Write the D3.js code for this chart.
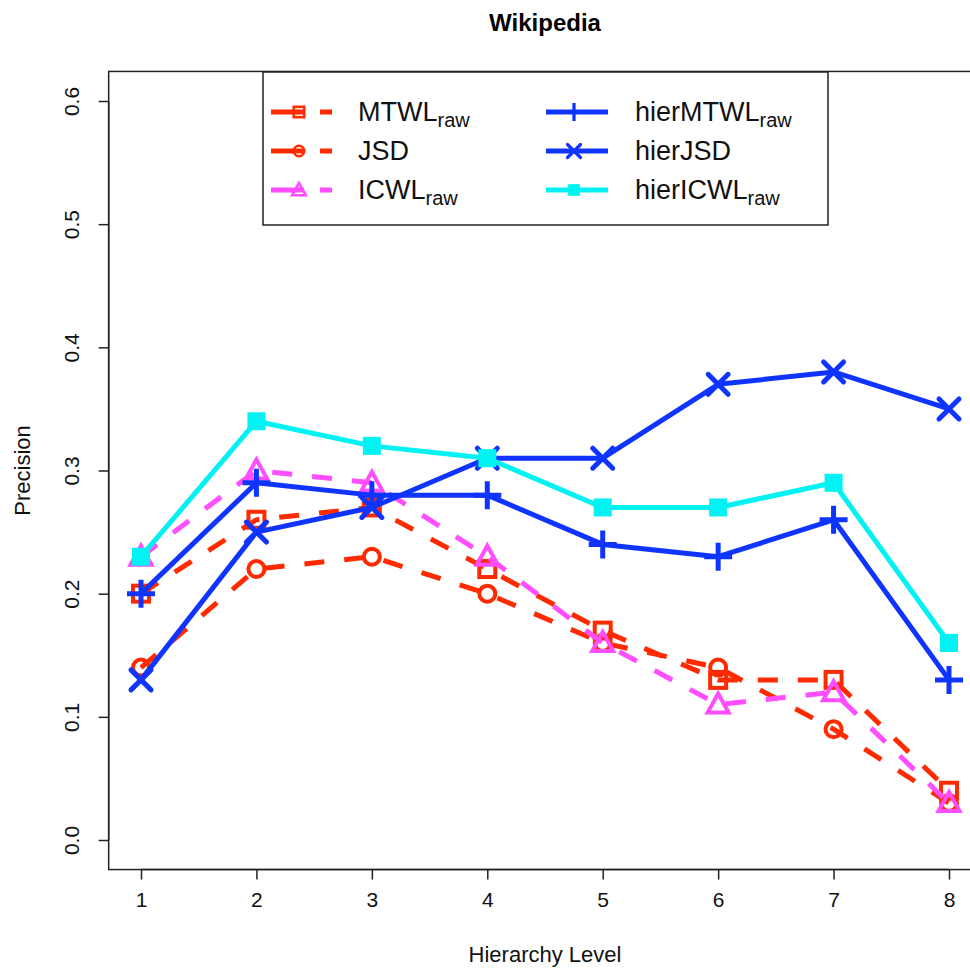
<!DOCTYPE html>
<html>
<head>
<meta charset="utf-8">
<script src="https://cdn.jsdelivr.net/npm/d3@7"></script>
<style>
  body { margin: 0; background: #fff; }
  svg { display: block; font-family: "Liberation Sans", Arial, sans-serif; }
</style>
</head>
<body>
<svg width="970" height="968"></svg>
<script>
// hierarchy levels on the x axis
const levels = [1, 2, 3, 4, 5, 6, 7, 8];
const yTicks = [0.0, 0.1, 0.2, 0.3, 0.4, 0.5, 0.6];

// precision per level
const mtwlRaw     = [0.20, 0.26, 0.27, 0.22, 0.17, 0.13, 0.13, 0.04];
const jsd         = [0.14, 0.22, 0.23, 0.20, 0.16, 0.14, 0.09, 0.03];
const icwlRaw     = [0.23, 0.30, 0.29, 0.23, 0.16, 0.11, 0.12, 0.03];
const hierMtwlRaw = [0.20, 0.29, 0.28, 0.28, 0.24, 0.23, 0.26, 0.13];
const hierJsd     = [0.13, 0.25, 0.27, 0.31, 0.31, 0.37, 0.38, 0.35];
const hierIcwlRaw = [0.23, 0.34, 0.32, 0.31, 0.27, 0.27, 0.29, 0.16];

const red = "#ff2a00", magenta = "#ff4dff", blue = "#0f34ff", cyan = "#00f2f2";

const series = [
  {name: "MTWL", sub: "raw", values: mtwlRaw, color: red, dash: true, pch: "square"},
  {name: "JSD", sub: "", values: jsd, color: red, dash: true, pch: "circle"},
  {name: "ICWL", sub: "raw", values: icwlRaw, color: magenta, dash: true, pch: "triangle"},
  {name: "hierMTWL", sub: "raw", values: hierMtwlRaw, color: blue, dash: false, pch: "plus"},
  {name: "hierJSD", sub: "", values: hierJsd, color: blue, dash: false, pch: "cross"},
  {name: "hierICWL", sub: "raw", values: hierIcwlRaw, color: cyan, dash: false, pch: "fsquare"}
];

let svg = d3.select("svg");

let x = d3.scaleLinear().domain([1, 8]).range([141, 949]);
let y = d3.scaleLinear().domain([0, 0.6]).range([840, 101]);

// R style 4% padding around the data range
let boxL = x(0.72), boxR = x(8.28), boxT = y(0.624), boxB = y(-0.024);

// plot box (right side runs off the page)
svg.append("rect")
  .attr("x", boxL).attr("y", boxT)
  .attr("width", boxR - boxL).attr("height", boxB - boxT)
  .attr("fill", "none").attr("stroke", "#222").attr("stroke-width", 1.5);

// axes
let gx = svg.append("g").attr("transform", "translate(0," + boxB + ")")
  .call(d3.axisBottom(x).tickValues(levels).tickFormat(d3.format("d")).tickSize(10).tickPadding(13));
let gy = svg.append("g").attr("transform", "translate(" + boxL + ",0)")
  .call(d3.axisLeft(y).tickValues(yTicks).tickFormat(d3.format(".1f")).tickSize(10));

[gx, gy].forEach(g => {
  g.select(".domain").remove();
  g.selectAll("line").attr("stroke", "#222").attr("stroke-width", 1.5);
  g.selectAll("text").attr("font-size", 21).attr("fill", "#111").attr("font-family", "Liberation Sans, Arial, sans-serif");
});
gx.append("line").attr("x1", x(1)).attr("x2", x(8)).attr("stroke", "#222").attr("stroke-width", 1.5);
gy.append("line").attr("y1", y(0)).attr("y2", y(0.6)).attr("stroke", "#222").attr("stroke-width", 1.5);
gy.selectAll(".tick text")
  .attr("x", null).attr("dy", null)
  .attr("text-anchor", "middle")
  .attr("transform", "translate(-30,0) rotate(-90)");

// titles
svg.append("text").attr("x", (boxL + boxR) / 2).attr("y", 31)
  .attr("text-anchor", "middle").attr("font-size", 24).attr("font-weight", "bold").text("Wikipedia");
svg.append("text").attr("x", (boxL + boxR) / 2).attr("y", 962)
  .attr("text-anchor", "middle").attr("font-size", 22).attr("fill", "#111").text("Hierarchy Level");
svg.append("text").attr("transform", "translate(30," + ((boxT + boxB) / 2) + ") rotate(-90)")
  .attr("text-anchor", "middle").attr("font-size", 22).attr("fill", "#111").text("Precision");

function marker(g, type, color) {
  if (type === "square")
    g.append("rect").attr("x", -8).attr("y", -8).attr("width", 16).attr("height", 16)
      .attr("fill", "none").attr("stroke", color).attr("stroke-width", 4);
  else if (type === "circle")
    g.append("circle").attr("r", 8).attr("fill", "none").attr("stroke", color).attr("stroke-width", 4);
  else if (type === "triangle")
    g.append("path").attr("d", "M0,-11L10.5,8L-10.5,8Z").attr("fill", "none")
      .attr("stroke", color).attr("stroke-width", 4).attr("stroke-linejoin", "miter");
  else if (type === "plus")
    g.append("path").attr("d", "M-14,0H14M0,-14V14").attr("stroke", color).attr("stroke-width", 5);
  else if (type === "cross")
    g.append("path").attr("d", "M-10,-10L10,10M-10,10L10,-10").attr("stroke", color).attr("stroke-width", 5)
      .attr("stroke-linecap", "round");
  else if (type === "fsquare")
    g.append("rect").attr("x", -9).attr("y", -9).attr("width", 18).attr("height", 18).attr("fill", color);
}

let line = d3.line().x((d, i) => x(levels[i])).y(d => y(d));

series.forEach(s => {
  let g = svg.append("g");
  g.append("path").datum(s.values)
    .attr("d", line)
    .attr("fill", "none")
    .attr("stroke", s.color)
    .attr("stroke-width", 5)
    .attr("stroke-dasharray", s.dash ? "20,20" : null)
    .attr("stroke-linejoin", "round");
  g.selectAll("g.pt").data(s.values).enter().append("g")
    .attr("class", "pt")
    .attr("transform", (d, i) => "translate(" + x(levels[i]) + "," + y(d) + ")")
    .each(function () { marker(d3.select(this), s.pch, s.color); });
});

// legend
svg.append("rect").attr("x", 263).attr("y", 72).attr("width", 565).attr("height", 153)
  .attr("fill", "#fff").attr("stroke", "#222").attr("stroke-width", 1.5);

let legend = svg.append("g").selectAll("g").data(series).enter().append("g")
  .attr("transform", (d, i) => "translate(" + (i < 3 ? 271 : 546) + "," + (112 + (i % 3) * 39) + ")");

legend.append("line")
  .attr("x1", 0).attr("x2", d => d.dash ? 61 : 62)
  .attr("stroke", d => d.color).attr("stroke-width", 5)
  .attr("stroke-dasharray", d => d.dash ? "33,16" : null);
legend.append("g").attr("transform", "translate(28,0) scale(0.65)")
  .each(function (d) { marker(d3.select(this), d.pch, d.color); });

let lt = legend.append("text")
  .attr("x", (d, i) => i < 3 ? 87 : 89)
  .attr("y", 9)
  .attr("font-size", 27)
  .attr("fill", "#111");
lt.append("tspan").text(d => d.name);
lt.append("tspan").attr("dy", 6).attr("font-size", 20).text(d => d.sub);
</script>
</body>
</html>
